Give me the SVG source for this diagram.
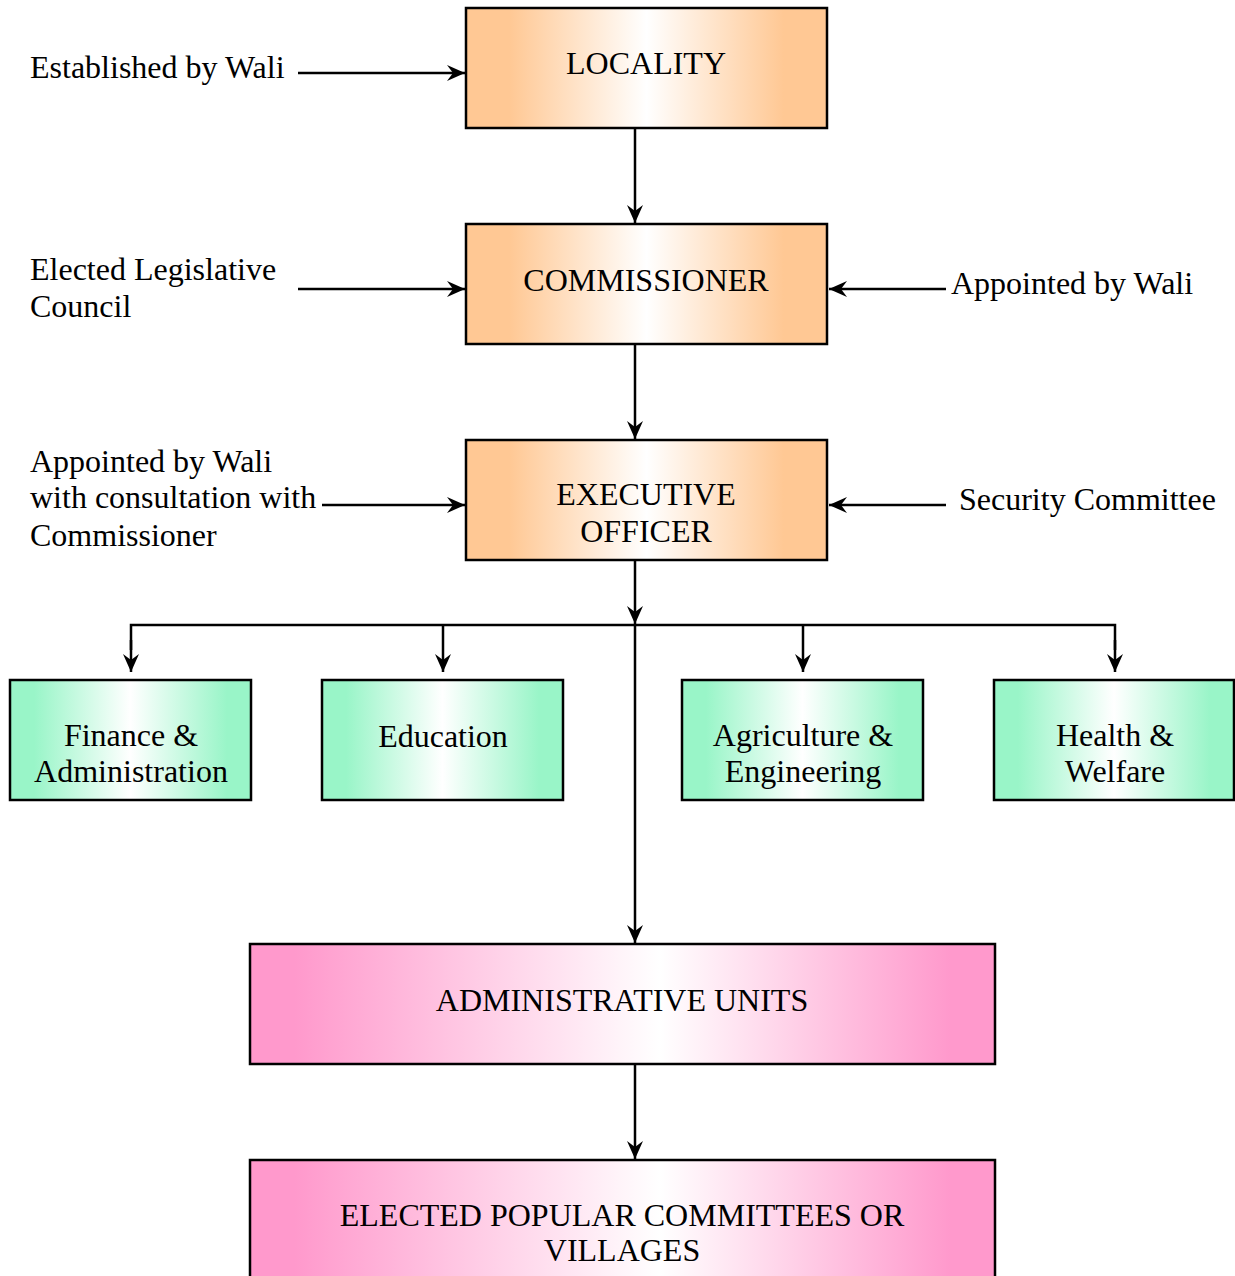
<svg xmlns="http://www.w3.org/2000/svg" width="1235" height="1276" viewBox="0 0 1235 1276">
<defs>
<linearGradient id="gO" x1="0" y1="0" x2="1" y2="0">
<stop offset="0" stop-color="#FFC894"/><stop offset="0.12" stop-color="#FFC894"/><stop offset="0.5" stop-color="#FFFFFF"/><stop offset="0.88" stop-color="#FFC894"/><stop offset="1" stop-color="#FFC894"/>
</linearGradient>
<linearGradient id="gG" x1="0" y1="0" x2="1" y2="0">
<stop offset="0" stop-color="#99F5C8"/><stop offset="0.1" stop-color="#99F5C8"/><stop offset="0.5" stop-color="#FFFFFF"/><stop offset="0.9" stop-color="#99F5C8"/><stop offset="1" stop-color="#99F5C8"/>
</linearGradient>
<linearGradient id="gP" x1="0" y1="0" x2="1" y2="0">
<stop offset="0" stop-color="#FF99CC"/><stop offset="0.06" stop-color="#FF99CC"/><stop offset="0.55" stop-color="#FFFFFF"/><stop offset="0.94" stop-color="#FF99CC"/><stop offset="1" stop-color="#FF99CC"/>
</linearGradient>
<marker id="arr" viewBox="0 0 18 16" markerWidth="18" markerHeight="16" refX="18" refY="8" orient="auto" markerUnits="userSpaceOnUse">
<path d="M0,0 L18,8 L0,16 L6,8 z" fill="#000"/>
</marker>
</defs>
<style>
text{font-family:"Liberation Serif","Times New Roman",serif;font-size:32px;fill:#000}
.c{text-anchor:middle}
.box{stroke:#000;stroke-width:2.5}
.ln{stroke:#000;stroke-width:2.5;fill:none}
</style>
<g id="connectors">
<line class="ln" x1="298" y1="73" x2="465" y2="73" marker-end="url(#arr)"/>
<line class="ln" x1="635" y1="129" x2="635" y2="223" marker-end="url(#arr)"/>
<line class="ln" x1="298" y1="289" x2="465" y2="289" marker-end="url(#arr)"/>
<line class="ln" x1="946" y1="289" x2="829" y2="289" marker-end="url(#arr)"/>
<line class="ln" x1="635" y1="345" x2="635" y2="439" marker-end="url(#arr)"/>
<line class="ln" x1="322" y1="505" x2="465" y2="505" marker-end="url(#arr)"/>
<line class="ln" x1="946" y1="505" x2="829" y2="505" marker-end="url(#arr)"/>
<line class="ln" x1="635" y1="561" x2="635" y2="624" marker-end="url(#arr)"/>
<line class="ln" x1="635" y1="624" x2="635" y2="943" marker-end="url(#arr)"/>
<polyline class="ln" points="131,650 131,625 1115,625 1115,650"/>
<line class="ln" x1="131" y1="640" x2="131" y2="672" marker-end="url(#arr)"/>
<line class="ln" x1="443" y1="625" x2="443" y2="672" marker-end="url(#arr)"/>
<line class="ln" x1="803" y1="625" x2="803" y2="672" marker-end="url(#arr)"/>
<line class="ln" x1="1115" y1="640" x2="1115" y2="672" marker-end="url(#arr)"/>
<line class="ln" x1="635" y1="1065" x2="635" y2="1159" marker-end="url(#arr)"/>
</g>
<g id="labels">
<text x="30" y="78">Established by Wali</text>
<text x="30" y="280">Elected Legislative</text>
<text x="30" y="317">Council</text>
<text x="951" y="294">Appointed by Wali</text>
<text x="30" y="472">Appointed by Wali</text>
<text x="30" y="508">with consultation with</text>
<text x="30" y="546">Commissioner</text>
<text x="959" y="510">Security Committee</text>
</g>
<g id="locality">
<rect class="box" x="466" y="8" width="361" height="120" fill="url(#gO)"/>
<text class="c" x="646" y="74">LOCALITY</text>
</g>
<g id="commissioner">
<rect class="box" x="466" y="224" width="361" height="120" fill="url(#gO)"/>
<text class="c" x="646" y="291">COMMISSIONER</text>
</g>
<g id="executive">
<rect class="box" x="466" y="440" width="361" height="120" fill="url(#gO)"/>
<text class="c" x="646" y="505">EXECUTIVE</text>
<text class="c" x="646" y="542">OFFICER</text>
</g>
<g id="finance">
<rect class="box" x="10" y="680" width="241" height="120" fill="url(#gG)"/>
<text class="c" x="131" y="746">Finance &amp;</text>
<text class="c" x="131" y="782">Administration</text>
</g>
<g id="education">
<rect class="box" x="322" y="680" width="241" height="120" fill="url(#gG)"/>
<text class="c" x="443" y="747">Education</text>
</g>
<g id="agriculture">
<rect class="box" x="682" y="680" width="241" height="120" fill="url(#gG)"/>
<text class="c" x="803" y="746">Agriculture &amp;</text>
<text class="c" x="803" y="782">Engineering</text>
</g>
<g id="health">
<rect class="box" x="994" y="680" width="240" height="120" fill="url(#gG)"/>
<text class="c" x="1115" y="746">Health &amp;</text>
<text class="c" x="1115" y="782">Welfare</text>
</g>
<g id="admin-units">
<rect class="box" x="250" y="944" width="745" height="120" fill="url(#gP)"/>
<text class="c" x="622" y="1011">ADMINISTRATIVE UNITS</text>
</g>
<g id="elected">
<rect class="box" x="250" y="1160" width="745" height="130" fill="url(#gP)"/>
<text class="c" x="622" y="1226">ELECTED POPULAR COMMITTEES OR</text>
<text class="c" x="622" y="1261">VILLAGES</text>
</g>
</svg>
